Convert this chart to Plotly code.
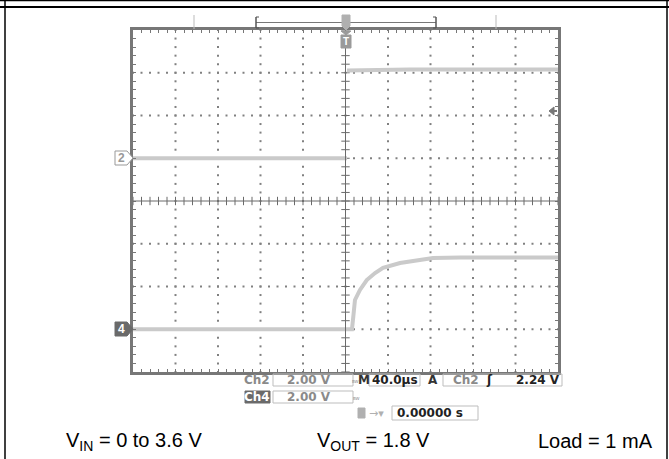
import numpy as np
import plotly.graph_objects as go

# scope settings (read from the readout)
CH2_V_PER_DIV = 2.0
CH4_V_PER_DIV = 2.0
CH2_GROUND_DIV = 1.0     # marker "2"
CH4_GROUND_DIV = -3.0    # marker "4"
TIME_PER_DIV = 40.0      # us

# Ch2 : input step (V) vs time (us); None = no samples on the fast edge
ch2_t = [-200, 1.4, None, 1.4, 60, 200]
ch2_v = [0.0, 0.0, None, 4.1, 4.15, 4.15]

# Ch4 : output rising after the step
ch4_t = [-200, 6.1, 7.5, 8.9, 13.6, 20, 27.8, 35.3, 51.3, 67.3, 82.4, 107.8, 200]
ch4_v = [0.0, 0.0, 0.67, 1.37, 1.84, 2.30, 2.63, 2.87, 3.10, 3.24, 3.33, 3.36, 3.36]

captions = ["V<sub>IN</sub> = 0 to 3.6 V", "V<sub>OUT</sub> = 1.8 V", "Load = 1 mA"]

W, H = 669, 459
L, R, T, B = 133, 558, 30, 372
GRAT = "#6a6a6a"
TRACE = "#cacaca"
FONT = "Liberation Sans, Arial, sans-serif"


def px(x):
    return (x - L) / (R - L)


def py(y):
    return (B - y) / (B - T)


def scale(vals, k, off=0.0):
    return [None if v is None else v / k + off for v in vals]


fig = go.Figure()

# graticule dots
dx, dy = [], []
for i in range(-4, 5):
    if i == 0:
        continue
    for k in np.arange(-4, 4.001, 0.2):
        dx.append(i); dy.append(k)
for j in range(-3, 4):
    if j == 0:
        continue
    for k in np.arange(-5, 5.001, 0.2):
        dx.append(k); dy.append(j)
fig.add_trace(go.Scatter(x=dx, y=dy, mode="markers", hoverinfo="skip",
                         marker=dict(symbol="square", size=2, color="#808080", line_width=0)))

# center cross with minor ticks
tk = np.arange(-5, 5.001, 0.2)
fig.add_trace(go.Scatter(x=tk, y=[0] * len(tk), mode="markers", hoverinfo="skip",
                         marker=dict(symbol="line-ns", size=6, line=dict(width=1, color=GRAT))))
tk = np.arange(-4, 4.001, 0.2)
fig.add_trace(go.Scatter(x=[0] * len(tk), y=tk, mode="markers", hoverinfo="skip",
                         marker=dict(symbol="line-ew", size=6, line=dict(width=1, color=GRAT))))

# traces
fig.add_trace(go.Scatter(
    x=scale(ch2_t, TIME_PER_DIV), y=scale(ch2_v, CH2_V_PER_DIV, CH2_GROUND_DIV),
    mode="lines", connectgaps=False, line=dict(color=TRACE, width=4), name="Ch2"))
fig.add_trace(go.Scatter(
    x=scale(ch4_t, TIME_PER_DIV), y=scale(ch4_v, CH4_V_PER_DIV, CH4_GROUND_DIV),
    mode="lines", line=dict(color=TRACE, width=4), name="Ch4"))

shapes = [
    dict(type="line", xref="x", yref="y", x0=0, x1=0, y0=-4, y1=4, line=dict(color=GRAT, width=1)),
    dict(type="line", xref="x", yref="y", x0=-5, x1=5, y0=0, y1=0, line=dict(color=GRAT, width=1)),
]
annotations = []


def pline(x0, y0, x1, y1, color="#000", width=1):
    shapes.append(dict(type="line", xref="paper", yref="paper", x0=px(x0), y0=py(y0),
                       x1=px(x1), y1=py(y1), line=dict(color=color, width=width)))


def prect(x0, y0, x1, y1, line="#aaa", fill="rgba(0,0,0,0)", width=1):
    shapes.append(dict(type="rect", xref="paper", yref="paper", x0=px(x0), y0=py(y0),
                       x1=px(x1), y1=py(y1), line=dict(color=line, width=width), fillcolor=fill))


def ppath(pts, fill, line=None):
    d = "M " + " L ".join(f"{px(a)},{py(b)}" for a, b in pts) + " Z"
    shapes.append(dict(type="path", xref="paper", yref="paper", path=d, fillcolor=fill,
                       line=dict(color=line or fill, width=1)))


def text(s, x, y, color="#000", size=13, anchor="center", family=FONT):
    annotations.append(dict(text=s, x=px(x), y=py(y), xref="paper", yref="paper",
                            xanchor=anchor, yanchor="middle", showarrow=False,
                            font=dict(color=color, size=size, family=family)))


# outer frame
pline(0, 0.5, 669, 0.5, "#000", 1.5)
pline(0, 7, 669, 7, "#000", 2)
pline(5, 0, 5, 459, "#000", 1.5)
pline(667, 0, 667, 459, "#000", 1.5)

# record-window bar on top
pline(194, 15, 194, 29, "#bbb", 1)
pline(496, 15, 496, 29, "#bbb", 1)
pline(256, 22.5, 436, 22.5, "#777", 1)
pline(256, 17, 256, 28, "#555", 1.5)
pline(256, 17, 259, 17, "#555", 1)
pline(256, 28, 259, 28, "#555", 1)
pline(436, 17, 436, 28, "#555", 1.5)
pline(433, 17, 436, 17, "#555", 1)
pline(433, 28, 436, 28, "#555", 1)
ppath([(342, 15), (350, 15), (350, 26), (346, 30), (342, 26)], "#b0b0b0")

# trigger position marker under the top edge
ppath([(341, 31), (351, 31), (346, 35)], "#9a9a9a")
prect(341, 35, 351, 48, line="#9a9a9a", fill="#9a9a9a")
text("<b>T</b>", 346, 41.5, "#fff", 10)

# channel ground markers
ppath([(115, 151), (127, 151), (133, 158), (127, 165), (115, 165)], "#fff", "#999")
text("<b>2</b>", 121, 158, "#999", 12)
ppath([(115, 322), (127, 322), (133, 329), (127, 336), (115, 336)], "#6a6a6a")
text("<b>4</b>", 121, 329, "#fff", 12)

# trigger level arrow
ppath([(549, 111), (554, 107), (554, 115)], "#777")
pline(553, 111, 557, 111, "#777", 2)

# readouts
RD = "DejaVu Sans, sans-serif"
text("<b>Ch2</b>", 257, 380, "#8a8a8a", 12, family=RD)
prect(273, 374, 353, 386, line="#bdbdbd")
text("<b>2.00 V</b>", 309, 380, "#8a8a8a", 12, family=RD)
text("BW", 355, 381, "#8a8a8a", 4, family=RD)
text("<b>M</b>", 363.5, 380, "#333", 12, family=RD)
prect(369, 374, 420, 386, line="#bdbdbd")
text("<b>40.0µs</b>", 394.5, 380, "#222", 12, family=RD)
text("<b>A</b>", 433, 380, "#333", 12, family=RD)
prect(443, 374, 562, 386, line="#bdbdbd")
text("<b>Ch2</b>", 466, 380, "#8a8a8a", 12, family=RD)
text("<b>ʃ</b>", 489, 380, "#222", 12, family=RD)
text("<b>2.24 V</b>", 538, 380, "#222", 12, family=RD)

prect(245, 391, 270, 403, line="#6a6a6a", fill="#6a6a6a")
text("<b>Ch4</b>", 257, 397, "#fff", 12, family=RD)
prect(273, 391, 353, 403, line="#bdbdbd")
text("<b>2.00 V</b>", 309, 397, "#8a8a8a", 12, family=RD)
text("BW", 356, 398, "#8a8a8a", 4, family=RD)

prect(358, 408, 365, 418, line="#b0b0b0", fill="#b0b0b0")
text("→▾", 376, 413, "#b0b0b0", 11, family=RD)
prect(392, 406, 478, 420, line="#bdbdbd")
text("<b>0.00000 s</b>", 395, 413, "#222", 12, anchor="left", family=RD)

# captions
text(captions[0], 134, 441, "#000", 20)
text(captions[1], 373, 441, "#000", 20)
text(captions[2], 595, 441, "#000", 20)

axis_common = dict(showgrid=False, zeroline=False, showticklabels=False,
                   showline=True, linecolor="#777", linewidth=3, mirror="ticks",
                   ticks="inside", ticklen=3, tickwidth=1, tickcolor="#777",
                   dtick=0.2, tick0=0, fixedrange=True)

fig.update_layout(
    width=W, height=H,
    margin=dict(l=L, r=W - R, t=T, b=H - B),
    paper_bgcolor="#fff", plot_bgcolor="#fff",
    showlegend=False,
    xaxis=dict(range=[-5, 5], **axis_common),
    yaxis=dict(range=[-4, 4], **axis_common),
    shapes=shapes,
    annotations=annotations,
)

# drop the default page margin so the figure sits at the window's corner
fig.write_html("out.html", config={"displayModeBar": False},
               post_script="document.body.style.margin='0';")
